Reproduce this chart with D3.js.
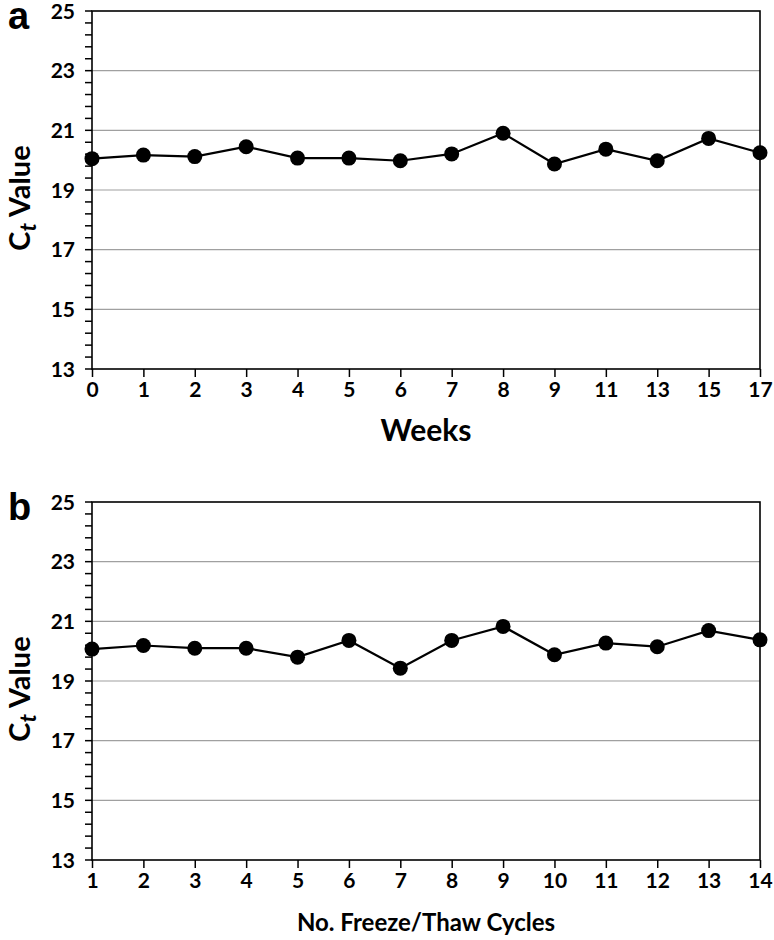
<!DOCTYPE html>
<html><head><meta charset="utf-8">
<script src="https://cdn.jsdelivr.net/npm/d3@7"></script>
<style>body{margin:0;background:#fff}svg{display:block}</style>
</head><body>
<script>
const weeks = ["0","1","2","3","4","5","6","7","8","9","11","13","15","17"];
const ctWeeks = [20.05,20.17,20.12,20.45,20.07,20.07,19.98,20.21,20.90,19.87,20.37,19.98,20.73,20.25];
const cycles = ["1","2","3","4","5","6","7","8","9","10","11","12","13","14"];
const ctCycles = [20.07,20.19,20.10,20.10,19.80,20.36,19.43,20.36,20.83,19.88,20.27,20.15,20.69,20.38];
const yMajor = [13,15,17,19,21,23,25];
const yGrid = [15,17,19,21,23];

const W=774,H=940;
const svg=d3.select("body").append("svg").attr("width",W).attr("height",H);
const font="Lato, 'Open Sans', sans-serif";

function panel(top, cats, vals, letter, xTitle, titleY, titleSize, letterY){
  const left=92,right=760,bottom=top+358;
  const x=d3.scalePoint().domain(cats).range([left,right]);
  const y=d3.scaleLinear().domain([13,25]).range([bottom,top]);
  const g=svg.append("g");
  g.selectAll(".grid").data(yGrid).join("line")
    .attr("x1",left).attr("x2",right).attr("y1",d=>y(d)).attr("y2",d=>y(d))
    .attr("stroke","#a0a0a0").attr("stroke-width",1.2);
  const minor=d3.range(13,25.001,0.4);
  g.selectAll(".mt").data(minor).join("line")
    .attr("x1",left-7).attr("x2",left).attr("y1",d=>y(d)).attr("y2",d=>y(d))
    .attr("stroke","#000").attr("stroke-width",1.5);
  g.selectAll(".yl").data(yMajor).join("text")
    .attr("x",left-17).attr("y",d=>y(d)).attr("dy","0.36em")
    .attr("text-anchor","end").attr("font-family",font).attr("font-weight","bold")
    .attr("font-size",21).text(d=>d);
  const xa=g.append("g").attr("transform",`translate(0,${bottom})`)
    .call(d3.axisBottom(x).tickSize(8).tickPadding(5));
  xa.select(".domain").remove();
  xa.selectAll("line").attr("stroke","#000").attr("stroke-width",1.5);
  xa.selectAll("text").attr("font-family",font).attr("font-weight","bold").attr("font-size",21).attr("fill","#000");
  g.append("rect").attr("x",left).attr("y",top).attr("width",right-left).attr("height",bottom-top)
    .attr("fill","none").attr("stroke","#000").attr("stroke-width",1.6);
  const line=d3.line().x((d,i)=>x(cats[i])).y(d=>y(d));
  g.append("path").datum(vals).attr("d",line).attr("fill","none").attr("stroke","#000").attr("stroke-width",2.2);
  g.selectAll(".pt").data(vals).join("circle")
    .attr("cx",(d,i)=>x(cats[i])).attr("cy",d=>y(d)).attr("r",7.5).attr("fill","#000");
  g.append("text").attr("x",(left+right)/2).attr("y",titleY).attr("text-anchor","middle")
    .attr("font-family",font).attr("font-weight","bold").attr("font-size",titleSize).text(xTitle);
  const yt=g.append("text").attr("transform",`translate(30,${(top+bottom)/2+8}) rotate(-90)`)
    .attr("text-anchor","middle").attr("font-family",font).attr("font-weight","bold").attr("font-size",29);
  yt.append("tspan").text("C");
  yt.append("tspan").attr("font-style","italic").attr("font-size",23).attr("dy",6).text("t");
  yt.append("tspan").attr("dy",-6).text(" Value");
  g.append("text").attr("x",8).attr("y",letterY).attr("font-family","'Liberation Sans', Arial, sans-serif")
    .attr("font-weight","bold").attr("font-size",38).text(letter);
}
panel(11, weeks, ctWeeks, "a", "Weeks", 441, 30, 29);
panel(502, cycles, ctCycles, "b", "No. Freeze/Thaw Cycles", 931, 24, 520);
</script>
</body></html>
